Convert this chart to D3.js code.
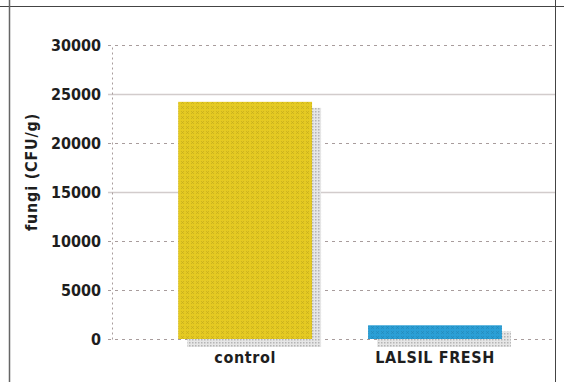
<!DOCTYPE html>
<html>
<head>
<meta charset="utf-8">
<script src="https://cdn.jsdelivr.net/npm/d3@7"></script>
<style>
  body { margin: 0; background: #fff; }
  svg text { font-family: "DejaVu Sans Condensed", "Liberation Sans Narrow", sans-serif; font-weight: bold; fill: #1e1e1e; }
</style>
</head>
<body>
<div id="chart"></div>
<script>
var categories = ['control', 'LALSIL FRESH'];
var fungi = [24200, 1400];
var tickValues = [0, 5000, 10000, 15000, 20000, 25000, 30000];
var barColors = ['#e5ca22', '#2b9fd6'];

var width = 564,
    height = 382,
    plotLeft = 112,
    plotRight = 555,
    plotTop = 45,
    plotBottom = 339;

var svg = d3.select('#chart')
  .append('svg')
  .attr('width', width)
  .attr('height', height);

var defs = svg.append('defs');

// crosshatch texture on the bars, like the old scanned print
barColors.forEach(function(c, i) {
  var p = defs.append('pattern')
    .attr('id', 'hatch' + i)
    .attr('width', 5)
    .attr('height', 5)
    .attr('patternUnits', 'userSpaceOnUse');
  p.append('rect').attr('width', 5).attr('height', 5).attr('fill', c);
  p.append('path')
    .attr('d', 'M1,1L4,4M4,1L1,4')
    .attr('stroke', d3.color(c).darker(1))
    .attr('stroke-width', 0.6)
    .attr('opacity', 0.55);
});

var shadow = defs.append('pattern')
  .attr('id', 'shadow')
  .attr('width', 3)
  .attr('height', 3)
  .attr('patternUnits', 'userSpaceOnUse');
shadow.append('rect').attr('width', 3).attr('height', 3).attr('fill', '#e6e6e6');
shadow.append('rect').attr('width', 1.5).attr('height', 1.5).attr('fill', '#b4b4b4');

// frame
svg.append('line').attr('x1', 0).attr('x2', width).attr('y1', 6.5).attr('y2', 6.5)
  .attr('stroke', '#444').attr('stroke-width', 1);
svg.append('line').attr('x1', 9.5).attr('x2', 9.5).attr('y1', 0).attr('y2', height)
  .attr('stroke', '#666').attr('stroke-width', 1.5);
svg.append('line').attr('x1', 555.5).attr('x2', 555.5).attr('y1', 0).attr('y2', height)
  .attr('stroke', '#444').attr('stroke-width', 1);

var x = d3.scaleBand()
  .domain(categories)
  .range([plotLeft, plotRight])
  .paddingInner(0.295)
  .paddingOuter(0.314)
  .align(0.555);

var y = d3.scaleLinear()
  .domain([0, 30000])
  .range([plotBottom, plotTop]);

// grid
function solid(d) { return d === 25000 || d === 15000; }
svg.append('g')
  .selectAll('line')
  .data(tickValues)
  .enter()
  .append('line')
  .attr('x1', plotLeft - 4)
  .attr('x2', plotRight)
  .attr('y1', function(d) { return Math.round(y(d)) + 0.5; })
  .attr('y2', function(d) { return Math.round(y(d)) + 0.5; })
  .attr('stroke', function(d) { return solid(d) ? '#d2cccc' : '#a89c9c'; })
  .attr('stroke-width', function(d) { return solid(d) ? 1.5 : 1; })
  .attr('stroke-dasharray', function(d) { return solid(d) ? null : '3,4'; });

// y axis
var yAxis = d3.axisLeft(y)
  .tickValues(tickValues)
  .tickSize(0)
  .tickPadding(11)
  .tickFormat(d3.format('d'));

var yAxisGroup = svg.append('g')
  .attr('transform', 'translate(' + plotLeft + ',0)')
  .call(yAxis);
yAxisGroup.select('.domain')
  .attr('stroke', '#a89c9c')
  .attr('stroke-dasharray', '2,3');
yAxisGroup.selectAll('text')
  .attr('font-size', '16px')
  .style('font-family', '"DejaVu Sans Condensed", sans-serif')
  .style('font-weight', 'bold')
  .attr('fill', '#222');

svg.append('text')
  .attr('transform', 'translate(37,172) rotate(-90)')
  .attr('text-anchor', 'middle')
  .attr('font-size', '16px')
  .attr('letter-spacing', '0.8px')
  .text('fungi (CFU/g)');

// bar shadows
svg.append('g')
  .selectAll('rect')
  .data(fungi)
  .enter()
  .append('rect')
  .attr('x', function(d, i) { return x(categories[i]) + 9; })
  .attr('y', function(d) { return y(d) + 6; })
  .attr('width', x.bandwidth())
  .attr('height', function(d) { return plotBottom - y(d) + 2; })
  .attr('fill', 'url(#shadow)');

// bars
svg.append('g')
  .selectAll('rect')
  .data(fungi)
  .enter()
  .append('rect')
  .attr('x', function(d, i) { return x(categories[i]); })
  .attr('y', function(d) { return y(d); })
  .attr('width', x.bandwidth())
  .attr('height', function(d) { return plotBottom - y(d); })
  .attr('fill', function(d, i) { return 'url(#hatch' + i + ')'; });

// x axis labels
var xAxis = d3.axisBottom(x)
  .tickSize(0)
  .tickPadding(13);

var xAxisGroup = svg.append('g')
  .attr('transform', 'translate(0,' + plotBottom + ')')
  .call(xAxis);
xAxisGroup.select('.domain').remove();
xAxisGroup.selectAll('text')
  .attr('font-size', '16px')
  .attr('letter-spacing', '0.6px')
  .style('font-family', '"DejaVu Sans Condensed", sans-serif')
  .style('font-weight', 'bold')
  .attr('fill', '#222');
</script>
</body>
</html>
